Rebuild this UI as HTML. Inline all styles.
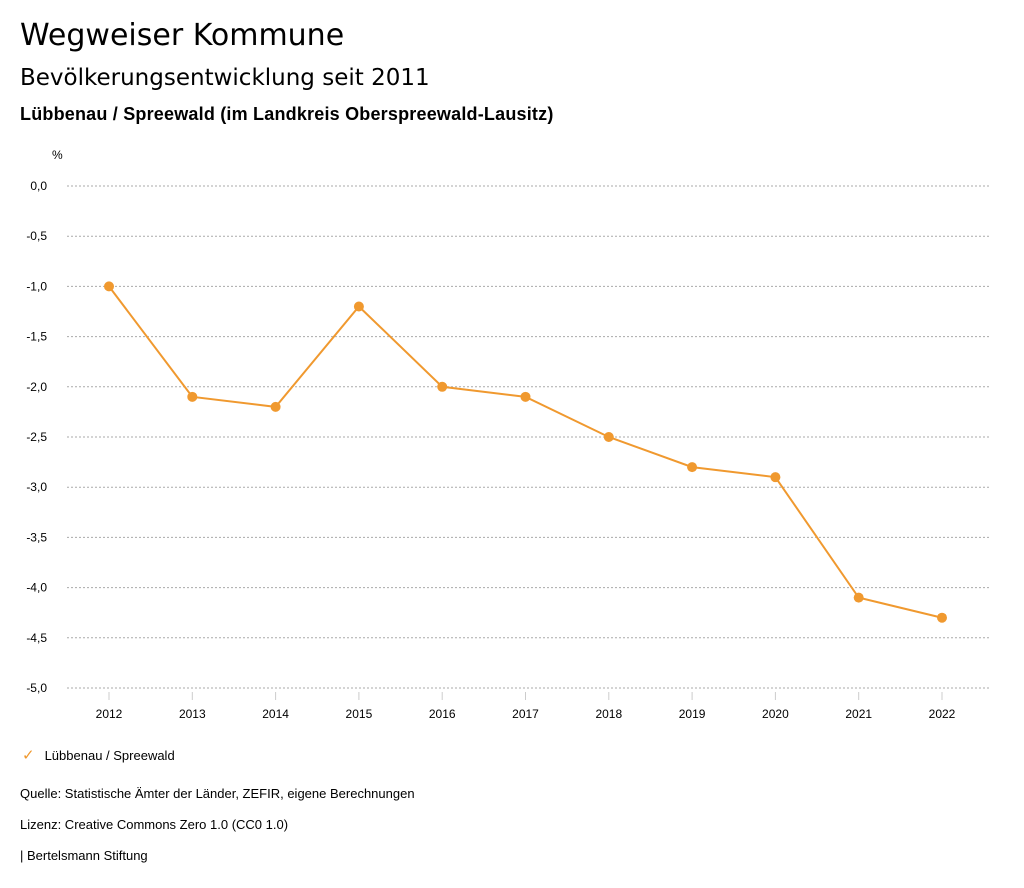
<!DOCTYPE html>
<html><head><meta charset="utf-8"><style>
body{margin:0;background:#fff;width:1024px;height:888px;overflow:hidden;font-family:"Liberation Sans",sans-serif;color:#000}
.t{position:absolute;left:20px;white-space:nowrap}
</style></head><body>
<div class="t" style="top:18px;font-family:'DejaVu Sans',sans-serif;font-size:30px">Wegweiser Kommune</div>
<div class="t" style="top:65px;font-family:'DejaVu Sans',sans-serif;font-size:23px">Bevölkerungsentwicklung seit 2011</div>
<div class="t" style="top:104px;font-size:18px;font-weight:bold;letter-spacing:0.2px">Lübbenau / Spreewald (im Landkreis Oberspreewald-Lausitz)</div>
<svg id="chart" style="position:absolute;left:0;top:0" width="1024" height="888"></svg>
<div class="t" style="top:746px;left:22px;font-size:13px"><span style="color:#f0992f;font-size:15px;margin-right:10px">✓</span>Lübbenau / Spreewald</div>
<div class="t" style="top:786px;font-size:13px">Quelle: Statistische Ämter der Länder, ZEFIR, eigene Berechnungen</div>
<div class="t" style="top:817px;font-size:13px">Lizenz: Creative Commons Zero 1.0 (CC0 1.0)</div>
<div class="t" style="top:848px;font-size:13px">| Bertelsmann Stiftung</div>
<script>
const years=["2012","2013","2014","2015","2016","2017","2018","2019","2020","2021","2022"];
const values=[-1.0,-2.1,-2.2,-1.2,-2.0,-2.1,-2.5,-2.8,-2.9,-4.1,-4.3];
const yTicks=[0,-0.5,-1,-1.5,-2,-2.5,-3,-3.5,-4,-4.5,-5];
const yTickLabels=["0,0","-0,5","-1,0","-1,5","-2,0","-2,5","-3,0","-3,5","-4,0","-4,5","-5,0"];
const svg=document.getElementById('chart');const NS='http://www.w3.org/2000/svg';
const y=v=>186+(0-v)*100.4;const x=i=>109+i*83.3;
function mk(t,a){const e=document.createElementNS(NS,t);for(const k in a)e.setAttribute(k,a[k]);svg.appendChild(e);return e;}
let u=mk('text',{x:52,y:159,'font-size':12,'font-family':'Liberation Sans'});u.textContent='%';


yTicks.forEach((v,i)=>{
 const l=mk('line',{x1:67,x2:990,y1:y(v),y2:y(v),stroke:'#aaa','stroke-dasharray':'2,2','stroke-width':1});
 
 
 const t=mk('text',{x:47,y:y(v)+4,'font-size':12,'text-anchor':'end','font-family':'Liberation Sans'});t.textContent=yTickLabels[i];
 
 
});
years.forEach((yr,i)=>{
 const l=mk('line',{x1:x(i),x2:x(i),y1:692,y2:700,stroke:'#ccc'});
 
 
 const t=mk('text',{x:x(i),y:718,'font-size':12,'text-anchor':'middle','font-family':'Liberation Sans'});t.textContent=yr;
 
 
});
const p=mk('polyline',{points:values.map((v,i)=>x(i)+','+y(v)).join(' '),fill:'none',stroke:'#f0992f','stroke-width':2});


values.forEach((v,i)=>{
 const c=mk('circle',{cx:x(i),cy:y(v),r:5,fill:'#f0992f'});
 
 
});
</script>
</body></html>
